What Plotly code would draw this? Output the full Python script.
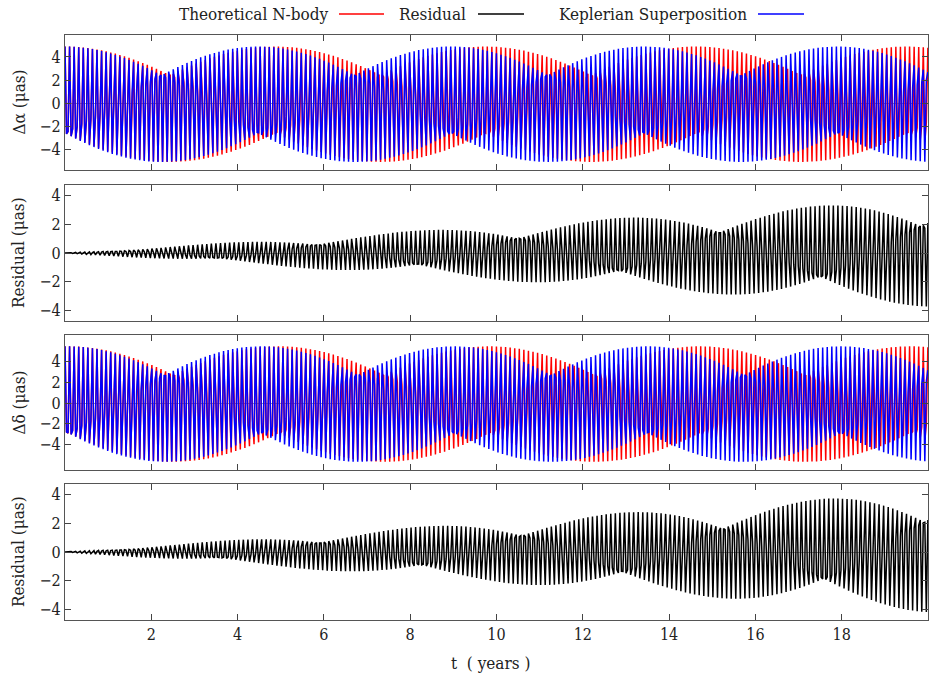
import numpy as np
import plotly.graph_objects as go

# ---- values ----
time_span = [0.0, 20.0]                 # years shown on the x axis
sample_step = [0.03533]                 # yr between plotted samples (3 per fast cycle)
fast_period = [0.10516]                 # yr, period of the fast astrometric oscillation
amplitude = [5.0, 5.6]                  # μas, [Δα, Δδ]
phase_deg = [90.0, 88.0]                # phase at t=0, [Δα, Δδ]
offset = [-0.1, -0.1]                   # μas, [Δα, Δδ]
nbody_lag_deg_per_yr = [2.2, 2.2]       # phase drift of N-body w.r.t. Keplerian
x_ticks = [2, 4, 6, 8, 10, 12, 14, 16, 18]
y_ticks = [-4, -2, 0, 2, 4]
y_ranges = [[-5.8, 5.9], [-4.75, 4.75], [-6.5, 6.6], [-4.75, 4.75]]
y_titles = ["Δα (μas)", "Residual (μas)", "Δδ (μas)", "Residual (μas)"]
legend_names = ["Theoretical N-body", "Residual", "Keplerian Superposition"]
colors = ["#ff0000", "#000000", "#0000ff"]

t = np.arange(time_span[0], time_span[1] + 1e-9, sample_step[0])

def series(i):
    psi = 2 * np.pi * t / fast_period[0] + np.radians(phase_deg[i])
    kep = amplitude[i] * np.sin(psi) + offset[i]
    nb = amplitude[i] * np.sin(psi - np.radians(nbody_lag_deg_per_yr[i]) * t) + offset[i]
    return nb, kep, nb - kep

nb_a, kep_a, res_a = series(0)
nb_d, kep_d, res_d = series(1)

W, H = 933, 680
panel_px = [(35, 170), (185, 321), (335, 470), (484, 620)]
domains = [[1 - b / H, 1 - a / H] for a, b in panel_px]

FONT = "DejaVu Serif Condensed, DejaVu Serif, serif"
fig = go.Figure()

lw = 1.5
traces = [
    (1, nb_a, colors[0]), (1, kep_a, colors[2]),
    (2, res_a, colors[1]),
    (3, nb_d, colors[0]), (3, kep_d, colors[2]),
    (4, res_d, colors[1]),
]
for p, y, c in traces:
    fig.add_trace(go.Scatter(x=t, y=y, mode="lines", line=dict(color=c, width=lw),
                             xaxis="x" if p == 1 else f"x{p}", yaxis="y" if p == 1 else f"y{p}",
                             showlegend=False, hoverinfo="skip"))

layout = dict(width=W, height=H, autosize=False,
              margin=dict(l=65, r=5, t=0, b=0),
              plot_bgcolor="white", paper_bgcolor="white",
              font=dict(family=FONT, size=16, color="#222"),
              showlegend=False)
for p in range(1, 5):
    xk = "xaxis" if p == 1 else f"xaxis{p}"
    yk = "yaxis" if p == 1 else f"yaxis{p}"
    ya = "y" if p == 1 else f"y{p}"
    xa = "x" if p == 1 else f"x{p}"
    layout[xk] = dict(domain=[0, 1], range=time_span, anchor=ya,
                      tickvals=x_ticks, showticklabels=(p == 4),
                      ticks="inside", ticklen=6, tickcolor="#444", mirror="allticks",
                      showline=True, linecolor="#555", linewidth=1.2,
                      showgrid=False, zeroline=False,
                      tickfont=dict(family=FONT, size=16, color="#222"))
    if p > 1:
        layout[xk]["matches"] = "x"
    layout[yk] = dict(domain=domains[p - 1], range=y_ranges[p - 1], anchor=xa,
                      tickvals=y_ticks, ticks="inside", ticklen=6, tickcolor="#444",
                      mirror="allticks", showline=True, linecolor="#555", linewidth=1.2,
                      showgrid=False, zeroline=True, zerolinecolor="#999", zerolinewidth=1,
                      tickfont=dict(family=FONT, size=16, color="#222"))
fig.update_layout(**layout)

ann = []
for p in range(4):
    a, b = panel_px[p]
    ann.append(dict(text=y_titles[p], xref="paper", yref="paper",
                    x=(18 - 65) / (W - 70), y=1 - ((a + b) / 2) / H,
                    textangle=-90, showarrow=False, xanchor="center", yanchor="middle",
                    font=dict(family=FONT, size=17, color="#222")))
ann.append(dict(text="t  ( years )", xref="paper", yref="paper",
                x=(490 - 65) / (W - 70), y=1 - 663 / H, showarrow=False,
                xanchor="center", yanchor="middle", font=dict(family=FONT, size=17, color="#222")))

# legend (text followed by line sample, like the reference)
text_right = [330, 468, 749]
line_span = [(339, 384), (478, 524), (758, 804)]
shapes = []
for i in range(3):
    ann.append(dict(text=legend_names[i], xref="paper", yref="paper",
                    x=(text_right[i] - 65) / (W - 70), y=1 - 14 / H, showarrow=False,
                    xanchor="right", yanchor="middle", font=dict(family=FONT, size=17, color="#222")))
    shapes.append(dict(type="line", xref="paper", yref="paper",
                       x0=(line_span[i][0] - 65) / (W - 70), x1=(line_span[i][1] - 65) / (W - 70),
                       y0=1 - 14 / H, y1=1 - 14 / H, line=dict(color=colors[i], width=1.3)))
fig.update_layout(annotations=ann, shapes=shapes)

fig.write_html("out.html")
